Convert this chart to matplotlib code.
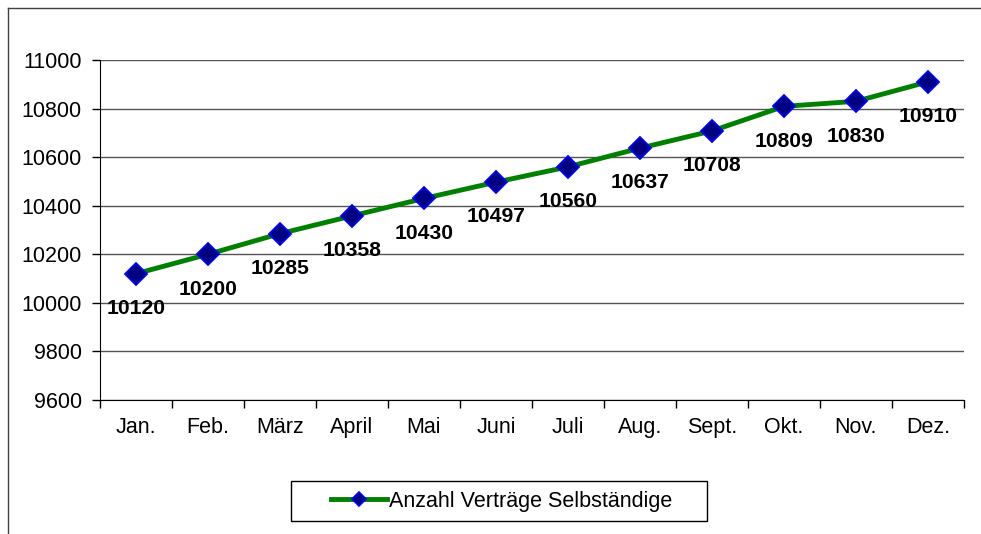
import numpy as np
import matplotlib
matplotlib.use("Agg")
import matplotlib.pyplot as plt
from matplotlib.lines import Line2D
from matplotlib.patches import Rectangle

plt.rcParams['font.family'] = ['Liberation Sans', 'DejaVu Sans']

# Data
months = ["Jan.", "Feb.", "März", "April", "Mai", "Juni", "Juli", "Aug.", "Sept.", "Okt.", "Nov.", "Dez."]
vertraege = [10120, 10200, 10285, 10358, 10430, 10497, 10560, 10637, 10708, 10809, 10830, 10910]
y_ticks = [9600, 9800, 10000, 10200, 10400, 10600, 10800, 11000]
series_name = "Anzahl Verträge Selbständige"

W, H = 981, 534
fig = plt.figure(figsize=(W / 100, H / 100), dpi=100)

# outer chart border (top + left only visible)
fig.add_artist(Line2D([8 / W, 8 / W], [0, 1 - 8 / H], transform=fig.transFigure, color="#404040", lw=1))
fig.add_artist(Line2D([8 / W, 1], [1 - 8 / H, 1 - 8 / H], transform=fig.transFigure, color="#404040", lw=1))

ax = fig.add_axes([100 / W, (H - 400) / H, 864 / W, 340 / H])

x = np.arange(len(months))
line, = ax.plot(x, vertraege, color="#008000", lw=3.5, marker="D", markersize=11,
                markerfacecolor="#000080", markeredgecolor="#0000FF", markeredgewidth=1.3,
                label=series_name, zorder=3)

for xi, v in zip(x, vertraege):
    ax.annotate(str(v), (xi, v), xytext=(0, -25), textcoords="offset points",
                ha="center", va="center", fontsize=15.2, fontweight="bold", zorder=4)

ax.set_xlim(-0.5, len(months) - 0.5)
ax.set_ylim(9600, 11000)
ax.set_yticks(y_ticks)
ax.set_yticklabels([str(t) for t in y_ticks])
ax.set_xticks(x)
ax.set_xticklabels(months)
ax.set_xticks(np.arange(-0.5, len(months)), minor=True)
ax.tick_params(axis="x", which="major", length=0, labelsize=15.5, pad=12)
ax.tick_params(axis="x", which="minor", length=6, width=1, direction="out")
ax.tick_params(axis="y", length=6, width=1, direction="out", labelsize=15.5, pad=7)

for t in y_ticks:
    ax.axhline(t, color="#555555", lw=1, zorder=1)

ax.spines["top"].set_visible(False)
ax.spines["right"].set_visible(False)
ax.spines["left"].set_color("black")
ax.spines["bottom"].set_color("black")

# legend box drawn separately, entry placed inside
fig.add_artist(Rectangle((291 / W, 1 - 521 / H), 416 / W, 40 / H, transform=fig.transFigure,
                         facecolor="white", edgecolor="black", lw=1))
leg_handle = Line2D([], [], color="#008000", lw=3.5, marker="D", markersize=7,
                    markerfacecolor="#000080", markeredgecolor="#0000FF", markeredgewidth=1.2)
leg = fig.legend(handles=[leg_handle], labels=[series_name], loc="center left",
                 bbox_to_anchor=(331 / W, 1 - 501 / H),
                 fontsize=15.5, frameon=False, handlelength=2.6, handletextpad=0.08,
                 borderpad=0, borderaxespad=0)

fig.savefig("out.png", dpi=100)
